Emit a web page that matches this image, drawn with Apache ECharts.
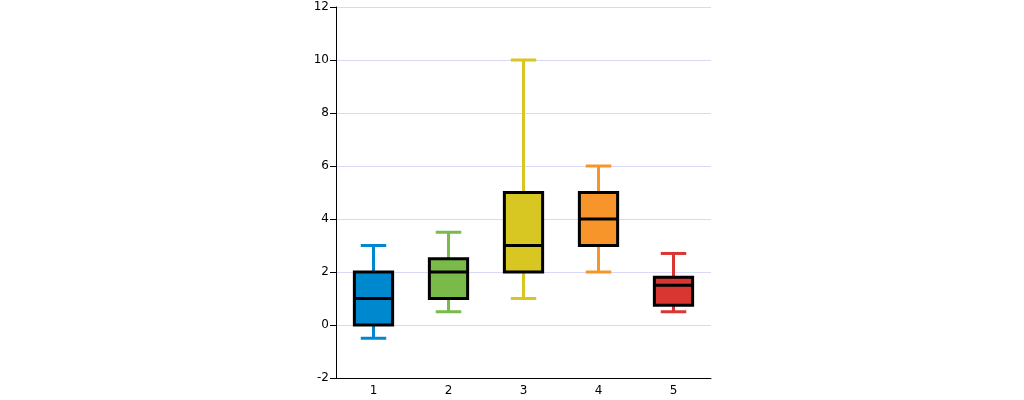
<!DOCTYPE html>
<html>
<head>
<meta charset="utf-8">
<script src="https://cdn.jsdelivr.net/npm/echarts@6/dist/echarts.min.js"></script>
<style>
  html, body { margin: 0; padding: 0; background: #fff; }
  #chart { width: 1024px; height: 400px; }
</style>
</head>
<body>
<div id="chart"></div>
<script>
var categories = ['1', '2', '3', '4', '5'];
var lows    = [-0.5, 0.5, 1, 2, 0.5];
var q1s     = [0, 1, 2, 3, 0.75];
var medians = [1, 2, 3, 4, 1.5];
var q3s     = [2, 2.5, 5, 5, 1.8];
var highs   = [3, 3.5, 10, 6, 2.7];
var colors  = ['#0088cf', '#7aba48', '#d8c623', '#f7952a', '#d93631'];

var seriesData = categories.map(function (c, i) {
    return [i, lows[i], q1s[i], medians[i], q3s[i], highs[i]];
});

function renderBox(params, api) {
    var idx = api.value(0);
    var band = api.size([1, 0])[0];
    var boxW = band * 0.51;
    var capW = band * 0.34;
    var x = api.coord([idx, 0])[0];
    var yLow = api.coord([idx, api.value(1)])[1];
    var yQ1 = api.coord([idx, api.value(2)])[1];
    var yMed = api.coord([idx, api.value(3)])[1];
    var yQ3 = api.coord([idx, api.value(4)])[1];
    var yHigh = api.coord([idx, api.value(5)])[1];
    var col = colors[params.dataIndex];
    var lineStyle = { stroke: col, lineWidth: 3 };
    return {
        type: 'group',
        children: [
            { type: 'line', shape: { x1: x, y1: yHigh, x2: x, y2: yQ3 }, style: lineStyle },
            { type: 'line', shape: { x1: x, y1: yQ1, x2: x, y2: yLow }, style: lineStyle },
            { type: 'line', shape: { x1: x - capW / 2, y1: yHigh, x2: x + capW / 2, y2: yHigh }, style: lineStyle },
            { type: 'line', shape: { x1: x - capW / 2, y1: yLow, x2: x + capW / 2, y2: yLow }, style: lineStyle },
            { type: 'rect', shape: { x: x - boxW / 2, y: yQ3, width: boxW, height: yQ1 - yQ3 },
              style: { fill: col, stroke: '#000', lineWidth: 3 } },
            { type: 'line', shape: { x1: x - boxW / 2, y1: yMed, x2: x + boxW / 2, y2: yMed },
              style: { stroke: '#000', lineWidth: 3 } }
        ]
    };
}

var chart = echarts.init(document.getElementById('chart'));
chart.setOption({
    animation: false,
    textStyle: { fontFamily: 'DejaVu Sans' },
    grid: { left: 336, right: 313, top: 7, bottom: 22 },
    xAxis: {
        type: 'category',
        data: categories,
        boundaryGap: true,
        axisLine: { onZero: false, lineStyle: { color: '#000', width: 1 } },
        axisTick: { alignWithLabel: true, length: 4, lineStyle: { color: '#000' } },
        axisLabel: { color: '#000', fontSize: 12, margin: 7 },
        splitLine: { show: false }
    },
    yAxis: {
        type: 'value',
        min: -2,
        max: 12,
        interval: 2,
        axisLine: { show: true, lineStyle: { color: '#000', width: 1 } },
        axisTick: { show: true, length: 6, lineStyle: { color: '#000' } },
        axisLabel: { color: '#000', fontSize: 12, margin: 7 },
        splitLine: { lineStyle: { color: '#d9d9f7' } }
    },
    series: [{
        type: 'custom',
        renderItem: renderBox,
        encode: { x: 0, y: [1, 2, 3, 4, 5] },
        data: seriesData
    }]
});
</script>
</body>
</html>
